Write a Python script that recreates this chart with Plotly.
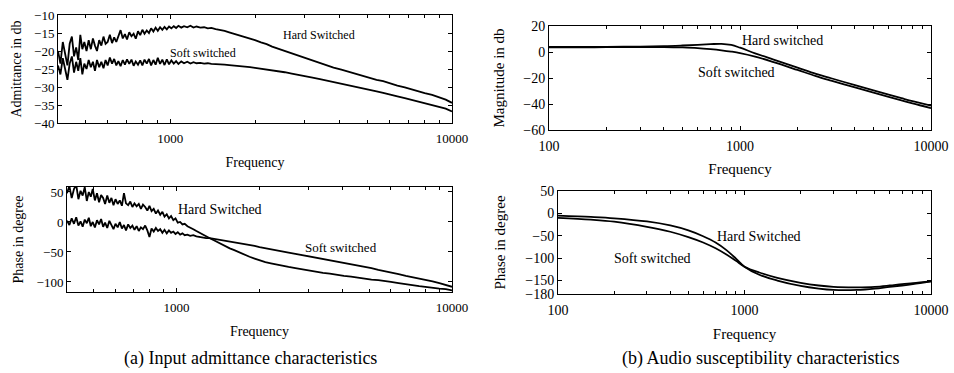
import math
import plotly.graph_objects as go

# ---------------- data ----------------
# (a) input admittance characteristics
A_FREQ = [400, 408, 416, 424, 432, 440, 448, 456, 464, 472, 480, 488, 496,
          505, 514, 523, 532, 541, 550,
          560, 570, 580, 590, 600,
          611, 622, 633, 644, 655,
          667, 679, 691, 703,
          716, 729, 742, 755,
          769, 783, 797, 811,
          826, 841, 856,
          872, 888, 904,
          921, 938, 955,
          973, 991, 1010,
          1030, 1050, 1070,
          1095, 1120, 1150, 1180, 1210, 1240,
          1280, 1320, 1360, 1400, 1450, 1500,
          1560, 1620, 1690, 1760, 1840, 1920, 2000,
          2100, 2200, 2300, 2400,
          2550, 2700, 2850, 3000,
          3200, 3400, 3600, 3800,
          4050, 4300, 4550, 4800,
          5100, 5400, 5700, 6000,
          6400, 6800, 7200, 7600, 8000,
          8500, 9000, 9500, 10000]

ADM_HARD = [-20, -23.5, -17.5, -21, -24, -18, -16, -21.5, -19, -22.5, -15.5, -19.5, -17.5,
            -20, -17, -19.5, -16.5, -18.5, -20,
            -17, -18.5, -16, -18, -17.5,
            -15.5, -17.8, -16.2, -17.5, -15.8,
            -14.2, -16.5, -15.3, -16.8,
            -14.8, -15.9, -15.2, -16.6,
            -14.5, -15.6, -14.1, -15.2,
            -14.3, -15.0, -13.7,
            -14.6, -13.5, -14.4,
            -13.4, -14.1, -13.3,
            -14.0, -13.2, -13.7,
            -13.1, -13.6, -13.0,
            -13.5, -13.1, -13.4, -13.0, -13.5, -13.2,
            -13.5, -13.4, -13.7, -13.6, -13.9, -14.1,
            -14.4, -14.8, -15.2, -15.6, -16.1, -16.5, -17.0,
            -17.6, -18.1, -18.8, -19.3,
            -20.0, -20.8, -21.3, -21.9,
            -22.6, -23.3, -24.0, -24.6,
            -25.2, -25.8, -26.2, -26.9,
            -27.4, -28.0, -28.4, -29.0,
            -29.6, -30.1, -30.7, -31.1, -31.7,
            -32.2, -32.9, -33.5, -34.4]

ADM_SOFT = [-24, -26.5, -22, -25, -28, -23.5, -21.5, -26, -23, -25.5, -22, -26.5, -23.5,
            -25, -22.5, -24.5, -23, -25.5, -22.5,
            -24.5, -23, -24.8, -22.5, -24,
            -21.8, -23.5, -22.2, -24, -22.8,
            -24.2, -22.5, -23.8, -22.3,
            -23.6, -22.4, -24.1, -22.9,
            -23.8, -22.6, -24, -22.4,
            -23.5, -22.2, -24.0,
            -22.5, -23.8, -21.9,
            -23.6, -22.4, -23.9,
            -22.3, -23.7, -22.6,
            -23.5, -22.8, -23.6,
            -22.9, -23.4, -23.0, -23.5, -23.1, -23.4,
            -23.3, -23.5, -23.4, -23.6, -23.6, -23.7,
            -23.8, -23.9, -24.0, -24.2, -24.4, -24.5, -24.7,
            -24.9, -25.1, -25.4, -25.6,
            -25.9, -26.3, -26.6, -27.0,
            -27.4, -27.8, -28.2, -28.6,
            -29.0, -29.4, -29.9, -30.3,
            -30.7, -31.2, -31.6, -32.1,
            -32.6, -33.1, -33.6, -34.0, -34.5,
            -35.0, -35.5, -36.0, -36.8]

APH_HARD = [48, 60, 40, 55, 62, 38, 52, 44, 58, 35, 50, 42, 55,
            36, 48, 33, 45, 40, 30,
            44, 32, 40, 28, 38,
            30, 36, 27, 48, 31,
            28, 34, 25, 31,
            26, 30, 22, 29,
            25, 19, 27, 18,
            22, 14, 19,
            12, 17, 9,
            13, 6, 10,
            3, 6, -1,
            0, -4, -3,
            -7, -9, -12, -15, -18, -20,
            -24, -27, -30, -33, -37, -40,
            -44, -47, -51, -54, -58, -61, -64,
            -67, -69, -71, -73,
            -75, -77, -79, -81,
            -83, -85, -86, -88,
            -90, -91, -93, -94,
            -96, -97, -99, -100,
            -102, -104, -105, -107, -108,
            -110, -111, -112, -114]

APH_SOFT = [2, -5, 6, -3, 8, -6, 1, -8, 4, -2, 7, -7, 0,
            -9, 3, -4, 5, -8, -1,
            -10, 2, -6, -12, -3,
            -9, 0, -11, -5, -14,
            -4, -10, -6, -13,
            -7, -15, -9, -12,
            -6, -14, -25, -11,
            -16, -10, -15,
            -12, -18, -13,
            -19, -14, -18,
            -16, -20, -17,
            -21, -19, -22,
            -21, -23, -22, -24, -25, -25,
            -27, -27, -28, -29, -30, -31,
            -33, -34, -36, -37, -39, -40, -42,
            -44, -46, -47, -49,
            -51, -53, -55, -57,
            -59, -62, -64, -66,
            -68, -71, -73, -75,
            -77, -80, -82, -84,
            -87, -90, -92, -94, -96,
            -99, -102, -105, -108]

# (b) audio susceptibility characteristics
B_FREQ = [100, 150, 200, 300, 400, 500, 600, 700, 800, 900, 1000, 1200, 1500, 2000, 2500, 3000,
          4000, 5000, 6000, 7000, 8000, 10000]
MAG_HARD = [4.0, 4.0, 4.0, 4.2, 4.5, 5.0, 5.5, 6.0, 6.3, 5.4, 3.3, -1.0, -5.8, -12.0, -16.8, -20.2,
            -25.5, -29.5, -32.8, -35.5, -37.8, -41.2]
MAG_SOFT = [3.5, 3.6, 3.7, 3.8, 3.8, 3.5, 3.0, 2.2, 1.3, 0.3, -0.8, -3.5, -7.8, -13.8, -18.5, -22.0,
            -27.3, -31.3, -34.6, -37.3, -39.6, -43.2]
BPH_HARD = [-5, -8, -11, -18, -27, -38, -51, -65, -82, -101, -119, -137, -150, -162, -168, -171,
            -171, -168, -164, -161, -158, -152]
BPH_SOFT = [-10, -14, -18.5, -30, -41, -53, -65, -78, -92, -106, -119, -132, -144, -155, -161, -164,
            -165, -164, -161, -158, -156, -152]

LEFT_MAJOR = [1000, 10000]
LEFT_MINOR = [400, 500, 600, 700, 800, 900, 2000, 3000, 4000, 5000, 6000, 7000, 8000, 9000]
RIGHT_MAJOR = [100, 1000, 10000]
RIGHT_MINOR = [200, 300, 400, 500, 600, 700, 800, 900, 2000, 3000, 4000, 5000, 6000, 7000, 8000, 9000]

FONT = "Liberation Serif, Times New Roman, serif"
W, H = 954, 373

fig = go.Figure()
line = dict(color="black", width=1.8)
fig.add_trace(go.Scatter(x=A_FREQ, y=ADM_HARD, mode="lines", line=line, xaxis="x", yaxis="y"))
fig.add_trace(go.Scatter(x=A_FREQ, y=ADM_SOFT, mode="lines", line=line, xaxis="x", yaxis="y"))
fig.add_trace(go.Scatter(x=A_FREQ, y=APH_HARD, mode="lines", line=line, xaxis="x2", yaxis="y2"))
fig.add_trace(go.Scatter(x=A_FREQ, y=APH_SOFT, mode="lines", line=line, xaxis="x2", yaxis="y2"))
fig.add_trace(go.Scatter(x=B_FREQ, y=MAG_HARD, mode="lines", line=line, xaxis="x3", yaxis="y3",
                         line_shape="spline"))
fig.add_trace(go.Scatter(x=B_FREQ, y=MAG_SOFT, mode="lines", line=line, xaxis="x3", yaxis="y3",
                         line_shape="spline"))
fig.add_trace(go.Scatter(x=B_FREQ, y=BPH_HARD, mode="lines", line=line, xaxis="x4", yaxis="y4",
                         line_shape="spline"))
fig.add_trace(go.Scatter(x=B_FREQ, y=BPH_SOFT, mode="lines", line=line, xaxis="x4", yaxis="y4",
                         line_shape="spline"))


def px_x(a, b):
    return [a / W, b / W]


def px_y(top, bottom):
    return [1 - bottom / H, 1 - top / H]


def xax(dom, anchor, rng, major, minor, fs, standoff):
    return dict(domain=dom, anchor=anchor, type="log", range=rng, automargin=False,
                tickvals=major, ticktext=[str(v) for v in major], ticklabelstandoff=3,
                ticks="inside", ticklen=4, tickcolor="black", showline=True, linecolor="black",
                linewidth=1, mirror="ticks", showgrid=False, zeroline=False,
                tickfont=dict(family=FONT, size=fs, color="black"),
                minor=dict(tickvals=minor, ticks="inside", ticklen=3, tickcolor="black",
                           showgrid=False),
                title=dict(text="Frequency", font=dict(family=FONT, size=fs + 1, color="black"),
                           standoff=standoff))


def yax(dom, anchor, rng, vals, title, fs, standoff):
    return dict(domain=dom, anchor=anchor, range=rng, tickvals=vals, automargin=False,
                ticks="inside", ticklen=4, tickcolor="black", showline=True, linecolor="black",
                linewidth=1, mirror="ticks", showgrid=False, zeroline=False,
                tickfont=dict(family=FONT, size=fs, color="black"),
                title=dict(text=title, font=dict(family=FONT, size=fs + 1, color="black"),
                           standoff=standoff))


lx = math.log10
fig.update_layout(
    width=W, height=H, margin=dict(l=0, r=0, t=0, b=0, autoexpand=False),
    paper_bgcolor="white", plot_bgcolor="white", showlegend=False,
    font=dict(family=FONT, color="black"),
    xaxis=xax(px_x(58, 452), "y", [lx(400), 4], LEFT_MAJOR, LEFT_MINOR, 13, 12),
    yaxis=yax(px_y(15, 123), "x", [-40, -10], [-40, -35, -30, -25, -20, -15, -10],
              "Admittance in db", 13, 9),
    xaxis2=xax(px_x(67, 452), "y2", [lx(400), 4], LEFT_MAJOR, LEFT_MINOR, 13, 12),
    yaxis2=yax(px_y(187, 292), "x2", [-116.7, 58.3], [-100, -50, 0, 50],
               "Phase in degree", 13, 9),
    xaxis3=xax(px_x(549, 931), "y3", [2, 4], RIGHT_MAJOR, RIGHT_MINOR, 14, 10),
    yaxis3=yax(px_y(26, 130), "x3", [-60, 20], [-60, -40, -20, 0, 20],
               "Magnitude in db", 14, 15),
    xaxis4=xax(px_x(558, 931), "y4", [2, 4], RIGHT_MAJOR, RIGHT_MINOR, 14, 11),
    yaxis4=yax(px_y(191, 294), "x4", [-180, 50], [-180, -150, -100, -50, 0, 50],
               "Phase in degree", 14, 16),
)

ann_font = lambda s: dict(family=FONT, size=s, color="black")
annotations = [
    dict(x=lx(3370), y=-15.6, xref="x", yref="y", text="Hard Switched", font=ann_font(12)),
    dict(x=lx(1312), y=-20.6, xref="x", yref="y", text="Soft switched", font=ann_font(12)),
    dict(x=lx(1443), y=20, xref="x2", yref="y2", text="Hard Switched", font=ann_font(14)),
    dict(x=lx(3966), y=-43, xref="x2", yref="y2", text="Soft switched", font=ann_font(13)),
    dict(x=lx(1660), y=9.2, xref="x3", yref="y3", text="Hard switched", font=ann_font(14)),
    dict(x=lx(964), y=-15.4, xref="x3", yref="y3", text="Soft switched", font=ann_font(14)),
    dict(x=lx(1197), y=-51, xref="x4", yref="y4", text="Hard Switched", font=ann_font(14)),
    dict(x=lx(323), y=-100, xref="x4", yref="y4", text="Soft switched", font=ann_font(14)),
    dict(x=250 / W, y=1 - 358 / H, xref="paper", yref="paper",
         text="(a) Input admittance characteristics", font=ann_font(18)),
    dict(x=760 / W, y=1 - 358 / H, xref="paper", yref="paper",
         text="(b) Audio susceptibility characteristics", font=ann_font(18)),
]
for a in annotations:
    a["showarrow"] = False
    a["xanchor"] = "center"
    a["yanchor"] = "middle"
fig.update_layout(annotations=annotations)

fig.write_html("out.html")
